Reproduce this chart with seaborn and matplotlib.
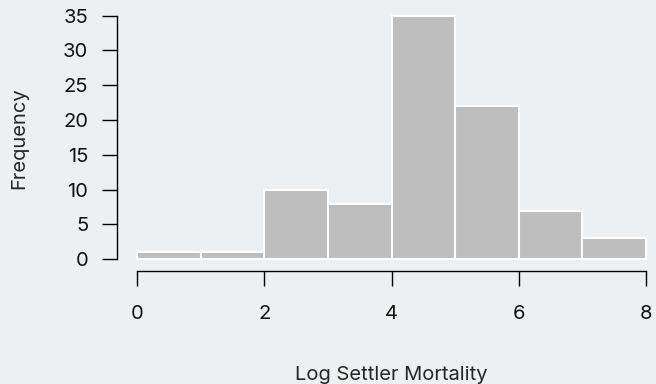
import matplotlib
matplotlib.use('Agg')
import matplotlib.pyplot as plt
import seaborn as sns

# histogram of log settler mortality (bin counts)
bin_edges = [0, 1, 2, 3, 4, 5, 6, 7, 8]
bin_mids = [0.5, 1.5, 2.5, 3.5, 4.5, 5.5, 6.5, 7.5]
counts = [1, 1, 10, 8, 35, 22, 7, 3]
x_ticks = [0, 2, 4, 6, 8]
y_ticks = [0, 5, 10, 15, 20, 25, 30, 35]

bg = '#ecf0f2'
sns.set_style('white')
plt.rcParams['font.family'] = ['Inter', 'DejaVu Sans']

fig = plt.figure(figsize=(6.56, 3.84), dpi=100, facecolor=bg)
ax = fig.add_axes([0.1779, 0.2943, 0.838, 0.6902], facecolor=bg)

sns.histplot(x=bin_mids, weights=counts, bins=bin_edges, ax=ax,
             color='#bebebe', alpha=1, edgecolor='white', linewidth=1.5)

ax.set_xlim(-0.32, 8.32)
ax.set_ylim(-1.68, 36.4)

# R style detached axes
sns.despine(ax=ax)
ax.spines['left'].set_bounds(0, 35)
ax.spines['bottom'].set_bounds(0, 8)
for s in ['left', 'bottom']:
    ax.spines[s].set_color('black')
    ax.spines[s].set_linewidth(1.0)

ax.set_xticks(x_ticks)
ax.set_yticks(y_ticks)
ax.tick_params(axis='both', bottom=True, left=True, length=10.5, width=1.0,
               color='black', labelsize=14.5, labelcolor='#111111')
ax.tick_params(axis='y', pad=10)
ax.tick_params(axis='x', pad=14)

ax.set_xlabel('Log Settler Mortality', fontsize=14.5, labelpad=31)
ax.set_ylabel('Frequency', fontsize=14.5, labelpad=25)

fig.savefig('out.png', dpi=100, facecolor=bg)
